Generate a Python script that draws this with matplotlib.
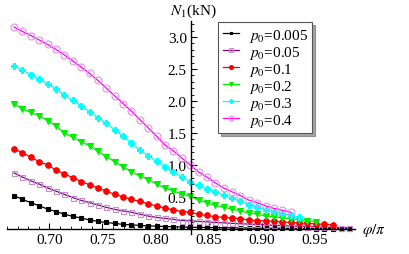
import matplotlib
matplotlib.use("Agg")
import matplotlib.pyplot as plt
from matplotlib.ticker import FixedLocator, FormatStrFormatter

plt.rcParams["font.family"] = ["Liberation Serif", "DejaVu Serif"]
plt.rcParams["mathtext.fontset"] = "stix"

# phi / pi sample points (shared grid)
phi = [0.6667, 0.6746, 0.6825, 0.6904, 0.6983, 0.7062, 0.7141, 0.7220,
       0.7299, 0.7378, 0.7457, 0.7536, 0.7615, 0.7694, 0.7773, 0.7852,
       0.7931, 0.8010, 0.8089, 0.8168, 0.8247, 0.8326, 0.8405, 0.8484,
       0.8563, 0.8642, 0.8721, 0.8800, 0.8879, 0.8958, 0.9037, 0.9116,
       0.9195, 0.9274, 0.9353, 0.9432, 0.9511, 0.9590, 0.9669, 0.9748,
       0.9827]

n1_p0005 = [0.52, 0.46, 0.41, 0.36, 0.31, 0.27, 0.23, 0.195, 0.17, 0.14,
            0.117, 0.10, 0.086, 0.07, 0.062, 0.055, 0.047, 0.042, 0.037,
            0.033, 0.030, 0.027, 0.024, 0.022, 0.020, 0.018, 0.016, 0.015,
            0.013, 0.012, 0.011, 0.010, 0.009, 0.008, 0.007, 0.006, 0.005,
            0.005, 0.004, 0.004, 0.003]
n1_p005 = [0.875, 0.81, 0.75, 0.70, 0.64, 0.59, 0.54, 0.49, 0.445, 0.41,
           0.375, 0.336, 0.305, 0.28, 0.26, 0.23, 0.20, 0.18, 0.165, 0.15,
           0.13, 0.125, 0.117, 0.11, 0.10, 0.094, 0.086, 0.08, 0.075, 0.07,
           0.062, 0.056, 0.05, 0.045, 0.04, 0.036, 0.031, 0.027, 0.023,
           0.02, 0.017]
n1_p01 = [1.25, 1.19, 1.12, 1.05, 1.00, 0.92, 0.86, 0.80, 0.74, 0.69,
          0.64, 0.59, 0.54, 0.50, 0.46, 0.43, 0.39, 0.36, 0.32, 0.30,
          0.27, 0.26, 0.23, 0.21, 0.19, 0.18, 0.17, 0.16, 0.14, 0.13,
          0.125, 0.117, 0.11, 0.10, 0.094, 0.086, 0.078, 0.07, 0.063]
n1_p02 = [1.95, 1.875, 1.82, 1.77, 1.69, 1.61, 1.50, 1.43, 1.36, 1.30,
          1.21, 1.13, 1.05, 0.97, 0.89, 0.83, 0.77, 0.70, 0.64, 0.59,
          0.55, 0.51, 0.45, 0.41, 0.37, 0.34, 0.31, 0.28, 0.25, 0.23,
          0.20, 0.19, 0.17, 0.16, 0.14, 0.125, 0.115]
n1_p03 = [2.55, 2.48, 2.41, 2.34, 2.27, 2.19, 2.09, 2.01, 1.92, 1.83,
          1.74, 1.65, 1.55, 1.45, 1.34, 1.23, 1.14, 1.06, 0.97, 0.89,
          0.81, 0.73, 0.68, 0.625, 0.58, 0.53, 0.48, 0.43, 0.38, 0.34,
          0.30, 0.27, 0.24, 0.21, 0.19]
n1_p04 = [3.156, 3.086, 3.023, 2.953, 2.883, 2.805, 2.719, 2.625, 2.531,
          2.43, 2.32, 2.20, 2.08, 1.96, 1.84, 1.71, 1.58, 1.45, 1.31, 1.22,
          1.11, 1.00, 0.89, 0.81, 0.72, 0.64, 0.58, 0.52, 0.45, 0.41, 0.36,
          0.32, 0.29, 0.26]

labels = ["$p_0$=0.005", "$p_0$=0.05", "$p_0$=0.1",
          "$p_0$=0.2", "$p_0$=0.3", "$p_0$=0.4"]

fig = plt.figure(figsize=(4.09, 2.55), dpi=100)
ax = fig.add_axes([7 / 409, 1 - 235 / 255, 348 / 409, 213 / 255])

series = [
    (n1_p0005, "black", "s", "black", "black", 3.0),
    (n1_p005, "#800080", "s", "#c98ad8", "none", 3.6),
    (n1_p01, "red", "o", "red", "red", 4.0),
    (n1_p02, "#00ee00", "v", "#00ee00", "#00ee00", 3.8),
    (n1_p03, "cyan", "P", "cyan", "cyan", 4.0),
    (n1_p04, "magenta", "o", "#e890e8", "none", 5.0),
]
for (vals, lc, mk, mec, mfc, ms), lab in zip(series, labels):
    ax.plot(phi[:len(vals)], vals, color=lc, lw=0.9, marker=mk, ms=ms,
            mec=mec, mfc=mfc, mew=0.8, label=lab)

ax.set_xlim(0.66, 0.988)
ax.set_ylim(-0.08, 3.25)

ax.spines["left"].set_position(("data", 5 / 6))
ax.spines["bottom"].set_position(("data", 0))
ax.spines["top"].set_visible(False)
ax.spines["right"].set_visible(False)
for s in ("left", "bottom"):
    ax.spines[s].set_linewidth(1.0)

ax.xaxis.set_major_locator(FixedLocator([0.70, 0.75, 0.80, 0.85, 0.90, 0.95]))
ax.xaxis.set_minor_locator(FixedLocator([0.66 + 0.01 * k for k in range(33)]))
ax.yaxis.set_major_locator(FixedLocator([0.5, 1.0, 1.5, 2.0, 2.5, 3.0]))
ax.yaxis.set_minor_locator(FixedLocator([0.1 * k for k in range(1, 33)]))
ax.xaxis.set_major_formatter(FormatStrFormatter("%.2f"))
ax.yaxis.set_major_formatter(FormatStrFormatter("%.1f"))
ax.tick_params(which="major", direction="in", length=4, width=0.8,
               labelsize=11, pad=3)
ax.tick_params(which="minor", direction="in", length=2, width=0.6)

fig.text(170 / 409, 1 - 11 / 255, "$N_1$(kN)", fontsize=11,
         ha="left", va="center")
fig.text(362 / 409, 1 - 231 / 255, r"$\varphi/\pi$", fontsize=11,
         ha="left", va="center")

leg = ax.legend(loc="upper left", bbox_to_anchor=(218 / 409, 1 - 23 / 255),
                bbox_transform=fig.transFigure, fontsize=11, frameon=True,
                fancybox=False, shadow=True, borderaxespad=0, borderpad=0.3,
                handlelength=1.1, handletextpad=0.6, labelspacing=0.0,
                markerscale=0.7)
leg.get_frame().set_edgecolor("#555555")
leg.get_frame().set_linewidth(0.8)

fig.savefig("out.png", dpi=100)
